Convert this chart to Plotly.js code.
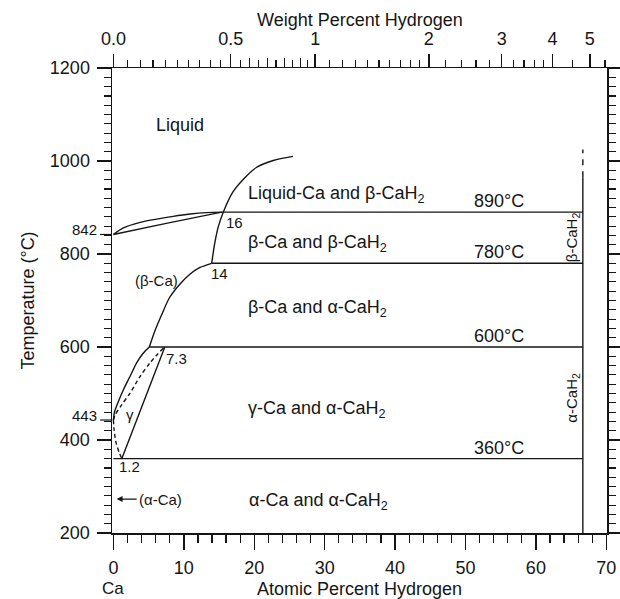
<!DOCTYPE html>
<html>
<head>
<meta charset="utf-8">
<script src="https://cdn.plot.ly/plotly-3.0.1.min.js"></script>
<style>html,body{margin:0;padding:0;background:#fff;}#chart{width:620px;height:599px;}</style>
</head>
<body>
<div id="chart"></div>
<script>
// ---------- data (atomic % H, temperature °C) ----------
const hydrideAt = 66.67;                       // CaH2 composition
const isoTemps  = [890, 780, 600, 360];        // invariant temperatures
const isoStartX = [15.6, 13.96, 5.1, 0];       // left end of each isotherm
const isoLabels = ['890°C', '780°C', '600°C', '360°C'];

// liquidus and solidus of beta-Ca from 842 °C
const liqCaX = [0, 1.42, 3.8, 6.15, 8.5, 10.9, 13.2, 15.6];
const liqCaT = [842, 856, 868, 875, 881, 886, 889, 890];
const solCaX = [0, 7.5, 15.4];
const solCaT = [842, 866, 890];

// beta-Ca / beta-CaH2 boundary continuing as CaH2 liquidus
const liqHX = [13.96, 14.4, 14.9, 15.6, 17.0, 18.6, 20.3, 22.7, 25.5];
const liqHT = [780, 824, 859, 890, 934, 963, 986, 1001, 1010];

// beta-Ca solvus
const betaSolvX = [5.1, 5.9, 6.9, 8.0, 9.5, 10.9, 12.3, 13.96];
const betaSolvT = [600, 635, 671, 707, 736, 757, 771, 780];

// gamma-Ca boundaries
const gamLeftX = [5.1, 4.26, 3.3, 2.37, 1.42, 0.71, 0.15, 0];
const gamLeftT = [600, 587, 566, 537, 508, 483, 460, 443];
const gamRightX = [7.3, 1.2];
const gamRightT = [600, 360];
const gamDashX = [7.1, 5.2, 3.8, 2.37, 1.19, 0.24, 0];
const gamDashT = [598, 566, 537, 501, 476, 454, 443];
const gamDash2X = [0, 0.1, 0.38, 0.85, 1.2];
const gamDash2T = [443, 422, 394, 372, 360];

// CaH2 line
const hydSolidT = [200, 965];
const hydDashT  = [965, 1025];

// region labels
const regionText = ['Liquid', 'Liquid-Ca and β-CaH<sub>2</sub>', 'β-Ca and β-CaH<sub>2</sub>',
                    'β-Ca and α-CaH<sub>2</sub>', 'γ-Ca and α-CaH<sub>2</sub>', 'α-Ca and α-CaH<sub>2</sub>'];
const regionX = [5.7, 18.9, 18.9, 18.9, 18.9, 19.0];
const regionT = [1078, 927, 823, 683, 465, 268];

// small point labels
const pointText = ['16', '14', '(β-Ca)', '7.3', 'γ', '1.2'];
const pointX = [17.2, 15.0, 6.06, 9.0, 2.37, 2.27];
const pointT = [868, 759, 743, 576, 454, 343];

// vertical phase labels
const vertText = ['β-CaH<sub>2</sub>', 'α-CaH<sub>2</sub>'];
const vertX = [65.2, 65.2];
const vertT = [835, 490];

// special temperatures on the left axis
const specialT = [842, 443];
const specialText = ['842', '443'];

// axis ticks
const atTicks = [0, 10, 20, 30, 40, 50, 60, 70];
const tTicks = [200, 400, 600, 800, 1000, 1200];
const wtTicks = [0, 0.5, 1, 2, 3, 4, 5];
const wtTickText = ['0.0', '0.5', '1', '2', '3', '4', '5'];
const wtMinor = [0.05,0.1,0.15,0.2,0.25,0.3,0.35,0.4,0.45,
                 0.55,0.65,0.75,0.85,0.95,
                 1.1,1.2,1.3,1.4,1.5,1.6,1.7,1.8,1.9,
                 2.2,2.4,2.6,2.8,3.2,3.4,3.6,3.8,4.5,5.5];
const wtMedium = [0.6, 0.7, 0.8, 0.9];

// ---------- helpers ----------
function wtToAt(w){ const h = w/1.008, c = (100-w)/40.078; return 100*h/(h+c); }
const INK = '#151515';
const FONT = 'Liberation Sans, Arial, Helvetica, sans-serif';
const xr = [-0.2, 70.1], yr = [200, 1200];

function line(x, y, dash, smooth){
  return {x: x, y: y, mode: 'lines', type: 'scatter', hoverinfo: 'skip', showlegend: false,
          line: {color: INK, width: 1.4, dash: dash || 'solid', shape: smooth ? 'spline' : 'linear', smoothing: 0.8}};
}

const traces = [];
isoTemps.forEach((t, i) => traces.push(line([isoStartX[i], hydrideAt], [t, t])));
traces.push(line(liqCaX, liqCaT, null, true));
traces.push(line(solCaX, solCaT, null, true));
traces.push(line(liqHX, liqHT, null, true));
traces.push(line(betaSolvX, betaSolvT, null, true));
traces.push(line(gamLeftX, gamLeftT, null, true));
traces.push(line(gamRightX, gamRightT));
traces.push(line(gamDashX, gamDashT, '4px,3px', true));
traces.push(line(gamDash2X, gamDash2T, '4px,3px', true));
traces.push(line([hydrideAt, hydrideAt], hydSolidT));
traces.push(line([hydrideAt, hydrideAt], hydDashT, '6px,6px'));
// dummy traces so overlay axes are drawn
traces.push({x: [null], y: [null], xaxis: 'x2', yaxis: 'y2', type: 'scatter', showlegend: false, hoverinfo: 'skip'});
traces.push({x: [null], y: [null], xaxis: 'x3', yaxis: 'y', type: 'scatter', showlegend: false, hoverinfo: 'skip'});

const annotations = [];
regionText.forEach((t, i) => annotations.push({x: regionX[i], y: regionT[i], text: t, showarrow: false,
  xanchor: 'left', yanchor: 'middle', font: {size: 18, color: INK, family: FONT}}));
pointText.forEach((t, i) => annotations.push({x: pointX[i], y: pointT[i], text: t, showarrow: false,
  xanchor: 'center', yanchor: 'middle', font: {size: 15, color: INK, family: FONT}}));
isoLabels.forEach((t, i) => annotations.push({x: 54.8, y: isoTemps[i], text: t, showarrow: false,
  xanchor: 'center', yanchor: 'bottom', yshift: -1, font: {size: 18, color: INK, family: FONT}}));
vertText.forEach((t, i) => annotations.push({x: vertX[i], y: vertT[i], text: t, showarrow: false,
  textangle: -90, xanchor: 'center', yanchor: 'middle', font: {size: 15, color: INK, family: FONT}}));
specialT.forEach((t, i) => annotations.push({xref: 'paper', x: -0.026, y: t, text: specialText[i], showarrow: false,
  xanchor: 'right', yanchor: 'middle', yshift: 5, font: {size: 15, color: INK, family: FONT}}));
annotations.push({x: 0.45, y: 273, ax: 3.3, ay: 273, axref: 'x', ayref: 'y', text: '(α-Ca)', xanchor: 'left',
  showarrow: true, arrowhead: 2, arrowsize: 1, arrowwidth: 1.2, arrowcolor: INK, standoff: 0,
  font: {size: 15, color: INK, family: FONT}});
annotations.push({x: 0, yref: 'paper', y: 0, yshift: -55, text: 'Ca', showarrow: false, xanchor: 'center', yanchor: 'middle',
  font: {size: 17, color: INK, family: FONT}});
// top axis title
annotations.push({xref: 'paper', x: 0.5, yref: 'paper', y: 1, yshift: 48, text: 'Weight Percent Hydrogen',
  showarrow: false, xanchor: 'center', yanchor: 'middle', font: {size: 18, color: INK, family: FONT}});

const shapes = specialT.map(t => ({type: 'line', xref: 'paper', yref: 'y', x0: -0.024, x1: 0, y0: t, y1: t,
  line: {color: INK, width: 1.2}}));

const tickFont = {size: 18, color: INK, family: FONT};
const layout = {
  width: 620, height: 599,
  margin: {l: 112, r: 13, t: 68, b: 66},
  paper_bgcolor: '#fff', plot_bgcolor: '#fff',
  font: {family: FONT, color: INK},
  showlegend: false,
  xaxis: {range: xr, tickmode: 'array', tickvals: atTicks, ticks: 'outside', ticklen: 15, tickwidth: 1.4,
          tickcolor: INK, showline: true, linecolor: INK, linewidth: 1.5, showgrid: false, zeroline: false,
          tickfont: tickFont, ticklabelstandoff: 3,
          minor: {dtick: 2, tick0: 0, ticks: 'outside', ticklen: 8, tickwidth: 1.2, tickcolor: INK, showgrid: false},
          title: {text: 'Atomic Percent Hydrogen', font: {size: 18, color: INK, family: FONT}, standoff: 17}},
  xaxis2: {range: xr, overlaying: 'x', side: 'top', anchor: 'y', tickmode: 'array',
           tickvals: wtTicks.map(wtToAt), ticktext: wtTickText, ticks: 'outside', ticklen: 13, tickwidth: 1.4,
           tickcolor: INK, showline: true, linecolor: INK, linewidth: 1.5, showgrid: false, zeroline: false,
           tickfont: tickFont, ticklabelstandoff: 1,
           minor: {tickmode: 'array', tickvals: wtMinor.map(wtToAt), ticks: 'outside', ticklen: 6.5, tickwidth: 1.2,
                   tickcolor: INK, showgrid: false}},
  xaxis3: {range: xr, overlaying: 'x', side: 'top', anchor: 'y', tickmode: 'array',
           tickvals: wtMedium.map(wtToAt), ticks: 'outside', ticklen: 9, tickwidth: 1.2, tickcolor: INK,
           showticklabels: false, showline: false, showgrid: false, zeroline: false},
  yaxis: {range: yr, tickmode: 'array', tickvals: tTicks, ticks: 'outside', ticklen: 14, tickwidth: 1.4,
          tickcolor: INK, showline: true, linecolor: INK, linewidth: 1.5, showgrid: false, zeroline: false,
          tickfont: tickFont, ticklabelstandoff: 3,
          minor: {dtick: 20, tick0: 200, ticks: 'outside', ticklen: 7, tickwidth: 1.2, tickcolor: INK, showgrid: false},
          title: {text: 'Temperature (°C)', font: {size: 18, color: INK, family: FONT}, standoff: 10}},
  yaxis2: {range: yr, overlaying: 'y', side: 'right', anchor: 'x', tickmode: 'array', tickvals: tTicks,
           ticks: 'outside', ticklen: 13, tickwidth: 1.4, tickcolor: INK, showticklabels: false,
           showline: true, linecolor: INK, linewidth: 1.5, showgrid: false, zeroline: false,
           minor: {dtick: 20, tick0: 200, ticks: 'outside', ticklen: 7, tickwidth: 1.2, tickcolor: INK, showgrid: false}},
  annotations: annotations,
  shapes: shapes
};

Plotly.newPlot('chart', traces, layout, {staticPlot: true, displayModeBar: false});
</script>
</body>
</html>
